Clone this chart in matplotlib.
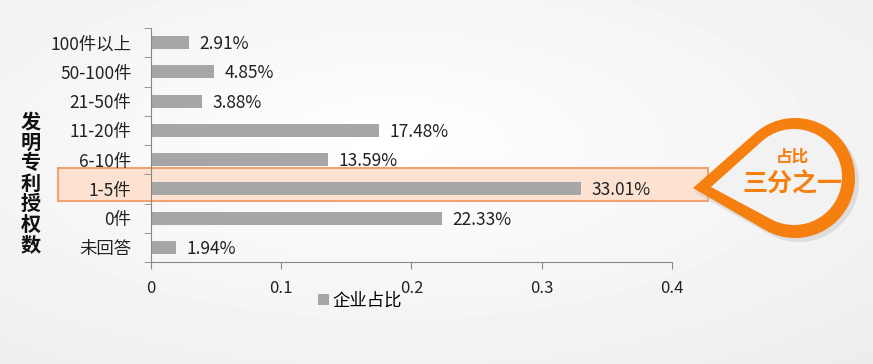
import numpy as np
import matplotlib.pyplot as plt
from matplotlib.path import Path
from matplotlib.patches import PathPatch, Rectangle

plt.rcParams['font.family'] = ['Noto Sans CJK SC', 'DejaVu Sans']

categories = ['100件以上', '50-100件', '21-50件', '11-20件', '6-10件', '1-5件', '0件', '未回答']
shares = [2.91, 4.85, 3.88, 17.48, 13.59, 33.01, 22.33, 1.94]   # percent
xticks = [0, 0.1, 0.2, 0.3, 0.4]
side_title = '发明专利授权数'
legend_label = '企业占比'
callout_small = '占比'
callout_big = '三分之一'

W, H = 873, 364
bar_color = '#a6a6a6'
orange = '#f57f0f'


def teardrop(cx, cy, r, tip):
    """circle with a pointed tip, path in pixel coords"""
    tx, ty = tip
    dx, dy = tx - cx, ty - cy
    d = np.hypot(dx, dy)
    base = np.arctan2(dy, dx)
    half = np.arccos(r / d)
    a0 = base + half
    a1 = base - half + 2 * np.pi
    ang = np.linspace(a0, a1, 80)
    pts = [(tx, ty)] + [(cx + r * np.cos(a), cy + r * np.sin(a)) for a in ang] + [(tx, ty)]
    codes = [Path.MOVETO] + [Path.LINETO] * (len(pts) - 2) + [Path.CLOSEPOLY]
    return Path(pts, codes)


fig = plt.figure(figsize=(W / 100, H / 100), dpi=100)

# background layer
bg = fig.add_axes([0, 0, 1, 1], zorder=0)
bg.set_xlim(0, W)
bg.set_ylim(H, 0)
bg.axis('off')
yy, xx = np.mgrid[0:H, 0:W]
rad = np.sqrt(((xx - W * 0.45) / W) ** 2 + ((yy - H * 0.4) / H) ** 2)
bg.imshow(1 - 0.09 * rad, cmap='gray', vmin=0, vmax=1, extent=[0, W, H, 0], aspect='auto')
bg.add_patch(Rectangle((58, 168), 650, 33, facecolor='#fde2d2', edgecolor='#f0a274', lw=1.5))

# chart
ax = fig.add_axes([151 / W, 1 - 262 / H, (672 - 151) / W, (262 - 28) / H], zorder=1)
ax.patch.set_alpha(0)
y = np.arange(len(categories))
vals = [s / 100 for s in shares]
ax.barh(y, vals, height=0.45, color=bar_color, label=legend_label)
for yi, v, s in zip(y, vals, shares):
    ax.text(v + 0.008, yi + 0.05, f'{s:.2f}%', va='center', ha='left', fontsize=12.5, color='#222222')
ax.set_ylim(len(categories) - 0.5, -0.5)
ax.set_xlim(0, 0.4)
ax.set_yticks(y)
ax.set_yticklabels(categories, fontsize=12.5, color='#222222')
ax.set_yticks(np.arange(len(categories) + 1) - 0.5, minor=True)
ax.tick_params(axis='y', which='major', length=0, pad=14)
ax.tick_params(axis='y', which='minor', length=5, color='#888888', direction='out')
ax.set_xticks(xticks)
ax.set_xticklabels(['0', '0.1', '0.2', '0.3', '0.4'], fontsize=12, color='#222222')
ax.tick_params(axis='x', length=5, color='#888888', pad=8)
for sp in ['top', 'right']:
    ax.spines[sp].set_visible(False)
for sp in ['left', 'bottom']:
    ax.spines[sp].set_color('#888888')
leg = ax.legend(loc='center', bbox_to_anchor=(360 / W, 1 - 301 / H), bbox_transform=fig.transFigure,
                frameon=False, fontsize=12.5, handlelength=0.6, handleheight=0.6, handletextpad=0.2,
                borderaxespad=0, borderpad=0)

# overlay: side title + callout
top = fig.add_axes([0, 0, 1, 1], zorder=2)
top.set_xlim(0, W)
top.set_ylim(H, 0)
top.axis('off')
top.patch.set_alpha(0)
for i, ch in enumerate(side_title):
    top.text(31, 122 + i * 20.5, ch, ha='center', va='center', fontsize=14.5, fontweight='bold', color='#111111')

top.add_patch(PathPatch(teardrop(799, 182, 60, (694, 192)), facecolor='#c8c8c8', edgecolor='none', alpha=0.5))
top.add_patch(PathPatch(teardrop(795, 178, 60, (693, 188)), facecolor=orange, edgecolor='none'))
top.add_patch(PathPatch(teardrop(794, 177, 48, (711, 187)), facecolor='#f2f2f2', edgecolor='none'))
top.text(792, 157, callout_small, ha='center', va='center', fontsize=12, fontweight='bold', color=orange)
top.text(792, 184, callout_big, ha='center', va='center', fontsize=18, fontweight='bold', color=orange)

fig.savefig('out.png', dpi=100)
